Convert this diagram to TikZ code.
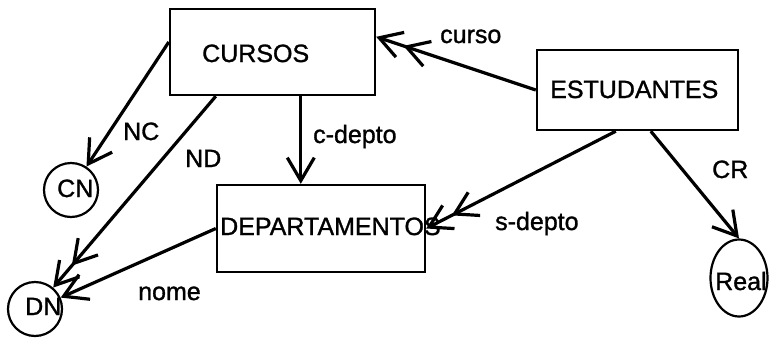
\documentclass[tikz,border=0pt]{standalone}
\usepackage{fontspec}
\setmainfont{Liberation Sans}[FakeBold=1.2]
\usetikzlibrary{arrows.meta,calc,shapes.geometric}
\begin{document}
\begin{tikzpicture}[x=1pt,y=-1pt,
  every node/.style={font=\fontsize{25}{30}\selectfont},
  entity/.style={draw,line width=2.4pt,rectangle,inner sep=0pt},
  value/.style={draw,line width=2.2pt,circle,inner sep=0pt,minimum size=54pt},
  txt/.style={anchor=base west,inner sep=0pt},
  conn/.style={line width=3.2pt,-{Straight Barb[length=23pt,width=27pt]}},
  conntwo/.style={line width=3.2pt,-{Straight Barb[length=22pt,width=26pt,sep=2pt]Straight Barb[length=22pt,width=26pt]}}
]
\useasboundingbox (0,0) rectangle (769,338);

% entities
\node[entity,minimum width=205pt,minimum height=86pt] (cursos) at (272.5,52) {};
\node[entity,minimum width=208pt,minimum height=87pt] (dep) at (321,228.5) {};
\node[entity,minimum width=201pt,minimum height=80pt] (est) at (637.5,90) {};
\node[txt] (tcursos) at (202,62) {CURSOS};
\node[txt] (tdep) at (220,235) {DEPARTAMENTOS};
\node[txt] (test) at (550,98) {ESTUDANTES};

% value domains
\node[value] (cn) at (71,190) {};
\node[value] (dn) at (35,309) {};
\node[draw,line width=2.2pt,ellipse,inner sep=0pt,minimum width=57pt,minimum height=77pt] (real) at (739,278) {};
\node[txt] (tcn) at (57,197) {CN};
\node[txt] (tdn) at (25,315) {DN};
\node[txt] (treal) at (715,290) {Real};

% attribute connectors
\draw[conn] ([yshift=10pt]cursos.west) -- (cn);
\draw[conntwo] ($(cursos.south west)+(47,0)$) -- (dn);
\draw[conn] ($(cursos.south west)+(132,0)$) -- ($(dep.north west)+(85,0)$);
\draw[conn] (dep.west) -- (dn);
\draw[conntwo] (est.west) -- ($(cursos.north east)+(0,29)$);
\draw[conntwo] ($(est.south west)+(80,0)$) -- (dep.east);
\draw[conn] ($(est.south west)+(115,0)$) -- (real.north);

% connector labels
\node[txt] (lnc) at (123,140) {NC};
\node[txt] (lnd) at (185,167) {ND};
\node[txt] (lcd) at (313,143) {c-depto};
\node[txt] (lcurso) at (440,43) {curso};
\node[txt] (lsd) at (495,230) {s-depto};
\node[txt] (lcr) at (712,178) {CR};
\node[txt] (lnome) at (138,300) {nome};
\end{tikzpicture}
\end{document}
